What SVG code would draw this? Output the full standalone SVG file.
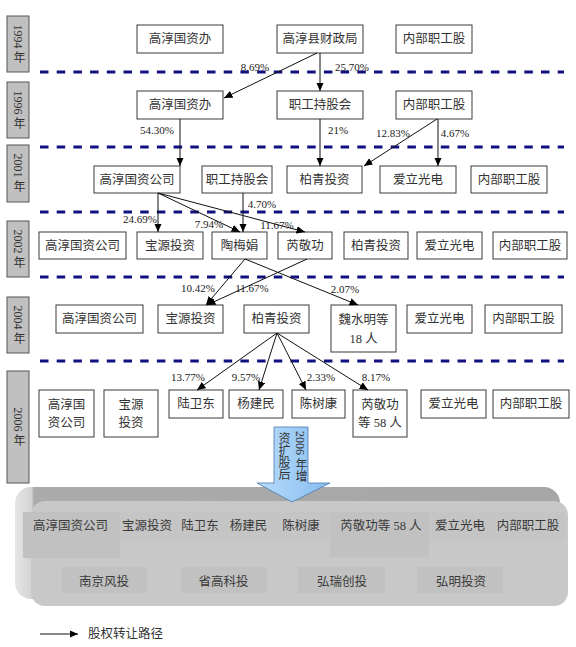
<svg xmlns="http://www.w3.org/2000/svg" width="576" height="647" viewBox="0 0 576 647">
<style>
.b{fill:#fff;stroke:#3a3a3a;stroke-width:1}
.t{font-family:"Liberation Serif","Noto Sans CJK SC",serif;font-size:12.5px;fill:#333;text-anchor:middle;dominant-baseline:central}
.p{font-family:"Liberation Serif","Noto Sans CJK SC",serif;font-size:11px;fill:#222;text-anchor:middle;dominant-baseline:central}
.yb{fill:#c0c0c0;stroke:#555;stroke-width:1}
.yt{font-family:"Liberation Serif","Noto Sans CJK SC",serif;font-size:12px;fill:#333;text-anchor:middle;dominant-baseline:central;writing-mode:vertical-rl}
.dl{stroke:#101080;stroke-width:3;stroke-dasharray:8.5 8.2;fill:none}
.c{stroke:#111;stroke-width:1;fill:none;marker-end:url(#ah)}
.gt{font-family:"Liberation Serif","Noto Sans CJK SC",serif;font-size:12.5px;fill:#3a3a3a;text-anchor:middle;dominant-baseline:central}
.pt{fill:#c1c1c1}
</style>
<defs>
<marker id="ah" markerUnits="userSpaceOnUse" markerWidth="9" markerHeight="8" refX="8.5" refY="3.75" orient="auto">
<path d="M0,0 L8.5,3.75 L0,7.5 z" fill="#000"/>
</marker>
<linearGradient id="bev" x1="0" y1="0" x2="1" y2="0">
<stop offset="0" stop-color="#e6e6e6"/>
<stop offset="0.03" stop-color="#d4d4d4"/>
<stop offset="0.035" stop-color="#ababab"/>
<stop offset="1" stop-color="#a6a6a6"/>
</linearGradient>
<linearGradient id="blu" x1="0" y1="0" x2="1" y2="0">
<stop offset="0" stop-color="#b9dcfa"/>
<stop offset="1" stop-color="#86bdf0"/>
</linearGradient>
</defs>

<g id="years">
<rect class="yb" x="7" y="16" width="22" height="56"/>
<text class="yt" x="18" y="44">1994 年</text>
<rect class="yb" x="7" y="82" width="22" height="56"/>
<text class="yt" x="18" y="110">1996 年</text>
<rect class="yb" x="7" y="145" width="22" height="57"/>
<text class="yt" x="18" y="173">2001 年</text>
<rect class="yb" x="7" y="221" width="22" height="56"/>
<text class="yt" x="18" y="249">2002 年</text>
<rect class="yb" x="7" y="297" width="22" height="56"/>
<text class="yt" x="18" y="325">2004 年</text>
<rect class="yb" x="7" y="371" width="22" height="112"/>
<text class="yt" x="18" y="427">2006 年</text>
</g>

<g id="dividers">
<line class="dl" x1="40" y1="72" x2="564" y2="72"/>
<line class="dl" x1="40" y1="147" x2="564" y2="147"/>
<line class="dl" x1="40" y1="212" x2="564" y2="212"/>
<line class="dl" x1="40" y1="277" x2="564" y2="277"/>
<line class="dl" x1="40" y1="361" x2="564" y2="361"/>
</g>

<g id="n94a"><rect class="b" x="137" y="25" width="86" height="28"/><text class="t" x="180" y="39">高淳国资办</text></g>
<g id="n94b"><rect class="b" x="277" y="25" width="86" height="28"/><text class="t" x="320" y="39">高淳县财政局</text></g>
<g id="n94c"><rect class="b" x="396" y="25" width="76" height="28"/><text class="t" x="434" y="39">内部职工股</text></g>

<g id="n96a"><rect class="b" x="137" y="91" width="86" height="28"/><text class="t" x="180" y="105">高淳国资办</text></g>
<g id="n96b"><rect class="b" x="277" y="91" width="86" height="28"/><text class="t" x="320" y="105">职工持股会</text></g>
<g id="n96c"><rect class="b" x="396" y="91" width="76" height="28"/><text class="t" x="434" y="105">内部职工股</text></g>

<g id="n01a"><rect class="b" x="94" y="166" width="86" height="27"/><text class="t" x="137" y="179.5">高淳国资公司</text></g>
<g id="n01b"><rect class="b" x="202" y="166" width="70" height="27"/><text class="t" x="237" y="179.5">职工持股会</text></g>
<g id="n01c"><rect class="b" x="287" y="166" width="75" height="27"/><text class="t" x="324.5" y="179.5">柏青投资</text></g>
<g id="n01d"><rect class="b" x="380" y="166" width="76" height="27"/><text class="t" x="418" y="179.5">爱立光电</text></g>
<g id="n01e"><rect class="b" x="471" y="166" width="76" height="27"/><text class="t" x="509" y="179.5">内部职工股</text></g>

<g id="n02a"><rect class="b" x="39" y="232" width="87" height="27"/><text class="t" x="82.5" y="245.5">高淳国资公司</text></g>
<g id="n02b"><rect class="b" x="137" y="232" width="66" height="27"/><text class="t" x="170" y="245.5">宝源投资</text></g>
<g id="n02c"><rect class="b" x="212" y="232" width="55" height="27"/><text class="t" x="239.5" y="245.5">陶梅娟</text></g>
<g id="n02d"><rect class="b" x="278" y="232" width="54" height="27"/><text class="t" x="305" y="245.5">芮敬功</text></g>
<g id="n02e"><rect class="b" x="344" y="232" width="64" height="27"/><text class="t" x="376" y="245.5">柏青投资</text></g>
<g id="n02f"><rect class="b" x="417" y="232" width="65" height="27"/><text class="t" x="449.5" y="245.5">爱立光电</text></g>
<g id="n02g"><rect class="b" x="493" y="232" width="74" height="27"/><text class="t" x="530" y="245.5">内部职工股</text></g>

<g id="n04a"><rect class="b" x="56" y="305" width="87" height="28"/><text class="t" x="99.5" y="319">高淳国资公司</text></g>
<g id="n04b"><rect class="b" x="158" y="305" width="65" height="28"/><text class="t" x="190.5" y="319">宝源投资</text></g>
<g id="n04c"><rect class="b" x="244" y="305" width="65" height="28"/><text class="t" x="276.5" y="319">柏青投资</text></g>
<g id="n04d"><rect class="b" x="331" y="305" width="65" height="47"/><text class="t" x="363.5" y="320">魏水明等</text><text class="t" x="363.5" y="339">18 人</text></g>
<g id="n04e"><rect class="b" x="407" y="305" width="65" height="28"/><text class="t" x="439.5" y="319">爱立光电</text></g>
<g id="n04f"><rect class="b" x="485" y="305" width="77" height="28"/><text class="t" x="523.5" y="319">内部职工股</text></g>

<g id="n06a"><rect class="b" x="39" y="390" width="55" height="47"/><text class="t" x="66.5" y="405">高淳国</text><text class="t" x="66.5" y="423">资公司</text></g>
<g id="n06b"><rect class="b" x="104" y="390" width="54" height="47"/><text class="t" x="131" y="405">宝源</text><text class="t" x="131" y="423">投资</text></g>
<g id="n06c"><rect class="b" x="169" y="390" width="54" height="28"/><text class="t" x="196" y="404">陆卫东</text></g>
<g id="n06d"><rect class="b" x="229" y="390" width="54" height="28"/><text class="t" x="256" y="404">杨建民</text></g>
<g id="n06e"><rect class="b" x="292" y="390" width="53" height="28"/><text class="t" x="318.5" y="404">陈树康</text></g>
<g id="n06f"><rect class="b" x="353" y="390" width="54" height="47"/><text class="t" x="380" y="405">芮敬功</text><text class="t" x="380" y="423">等 58 人</text></g>
<g id="n06g"><rect class="b" x="421" y="390" width="65" height="28"/><text class="t" x="453.5" y="404">爱立光电</text></g>
<g id="n06h"><rect class="b" x="493" y="390" width="76" height="28"/><text class="t" x="531" y="404">内部职工股</text></g>

<g id="connectors">
<line class="c" x1="317" y1="53" x2="224" y2="98"/>
<line class="c" x1="320" y1="53" x2="320" y2="91"/>
<line class="c" x1="180" y1="119" x2="180" y2="166"/>
<line class="c" x1="320" y1="119" x2="320" y2="166"/>
<line class="c" x1="437" y1="119" x2="364" y2="166"/>
<line class="c" x1="438" y1="119" x2="438" y2="166"/>
<line class="c" x1="158" y1="193" x2="158" y2="232"/>
<line class="c" x1="158" y1="193" x2="240" y2="232"/>
<line class="c" x1="158" y1="193" x2="305" y2="232"/>
<line class="c" x1="243" y1="193" x2="243" y2="232"/>
<line class="c" x1="245" y1="259" x2="206" y2="305"/>
<line class="c" x1="307" y1="259" x2="207" y2="305"/>
<line class="c" x1="245" y1="259" x2="358" y2="305"/>
<line class="c" x1="277" y1="333" x2="197" y2="390"/>
<line class="c" x1="277" y1="333" x2="259" y2="390"/>
<line class="c" x1="277" y1="333" x2="306" y2="390"/>
<line class="c" x1="277" y1="333" x2="368" y2="390"/>
</g>

<g id="labels">
<text class="p" x="255" y="67">8.69%</text>
<text class="p" x="352" y="67">25.70%</text>
<text class="p" x="157" y="130">54.30%</text>
<text class="p" x="338" y="130">21%</text>
<text class="p" x="393" y="133">12.83%</text>
<text class="p" x="455" y="133">4.67%</text>
<text class="p" x="262" y="204">4.70%</text>
<text class="p" x="140" y="219">24.69%</text>
<text class="p" x="209" y="224">7.94%</text>
<text class="p" x="277" y="225">11.67%</text>
<text class="p" x="198" y="288">10.42%</text>
<text class="p" x="252" y="288">11.67%</text>
<text class="p" x="345" y="289">2.07%</text>
<text class="p" x="188" y="377">13.77%</text>
<text class="p" x="246" y="377">9.57%</text>
<text class="p" x="321" y="377">2.33%</text>
<text class="p" x="376" y="377">8.17%</text>
</g>

<g id="result">
<rect x="15" y="487" width="545" height="112" rx="16" fill="url(#bev)"/>
<rect x="31" y="501" width="537" height="105" rx="14" fill="#c8c8c8"/>
<rect class="pt" x="23" y="512" width="97" height="46"/>
<rect class="pt" x="120" y="512" width="210" height="28" opacity="0.4"/>
<rect class="pt" x="330" y="512" width="99" height="45"/>
<rect class="pt" x="429" y="512" width="136" height="28" opacity="0.4"/>
<rect class="pt" x="62" y="567" width="85" height="26"/>
<rect class="pt" x="181" y="567" width="86" height="26"/>
<rect class="pt" x="298" y="567" width="87" height="26"/>
<rect class="pt" x="417" y="567" width="86" height="26"/>
<text class="gt" x="70.5" y="526">高淳国资公司</text>
<text class="gt" x="147" y="526">宝源投资</text>
<text class="gt" x="200" y="526">陆卫东</text>
<text class="gt" x="248.5" y="526">杨建民</text>
<text class="gt" x="301" y="526">陈树康</text>
<text class="gt" x="381" y="526">芮敬功等 58 人</text>
<text class="gt" x="460" y="526">爱立光电</text>
<text class="gt" x="528" y="526">内部职工股</text>
<text class="gt" x="104" y="582">南京风投</text>
<text class="gt" x="223.5" y="582">省高科投</text>
<text class="gt" x="342" y="582">弘瑞创投</text>
<text class="gt" x="461" y="582">弘明投资</text>
</g>

<g id="increase-arrow">
<polygon points="274,427 308,427 308,483 330,483 292,502 257,483 274,483" fill="url(#blu)" stroke="#4a78b0" stroke-width="0.8"/>
<text class="yt" x="300" y="431" style="text-anchor:start;font-size:12px">2006 年增</text>
<text class="yt" x="283" y="432" style="text-anchor:start;font-size:12px">资扩股后</text>
</g>

<g id="legend">
<line class="c" x1="40" y1="634" x2="78" y2="634"/>
<text class="t" x="88" y="634" style="text-anchor:start">股权转让路径</text>
</g>
</svg>
